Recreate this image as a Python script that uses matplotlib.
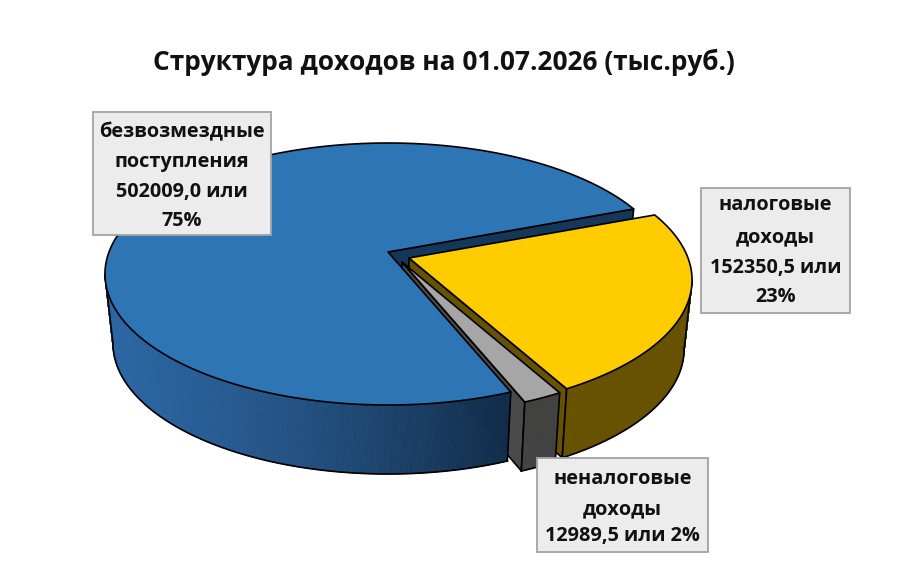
# plot.py
import numpy as np
import matplotlib
matplotlib.use("Agg")
import matplotlib.pyplot as plt
from matplotlib.patches import Polygon, Rectangle

# Values (thousand rub.), clockwise from the start angle
names = ["налоговые", "неналоговые", "безвозмездные"]
values = [152350.5, 12989.5, 502009.0]

title = "Структура доходов на 01.07.2026 (тыс.руб.)"
label_lines = {
    "налоговые": ["налоговые", "доходы", "152350,5 или", "23%"],
    "неналоговые": ["неналоговые", "доходы", "12989,5 или 2%"],
    "безвозмездные": ["безвозмездные", "поступления", "502009,0 или", "75%"],
}

# Look of the slices
top_colors = {"налоговые": "#ffcc00", "неналоговые": "#a6a6a6", "безвозмездные": "#2e75b6"}
side_colors = {"налоговые": "#665200", "неналоговые": "#424242", "безвозмездные": "#14375a"}
wall_colors = {"налоговые": "#665200", "неналоговые": "#4a4a4a", "безвозмездные": "#14375a"}
apex = {"налоговые": (409, 258), "неналоговые": (402, 262), "безвозмездные": (388, 252)}

# Pie projection, pixels
start_angle = 21.0
RX, RY, TILT = 279.0, 127.3, 0.168
DEPTH, SHRINK = 69.0, 0.972

# Label boxes: left, top, right, bottom, line centres
boxes = {
    "безвозмездные": (93, 112, 271, 235, [132.5, 162.5, 191.5, 220.5]),
    "налоговые": (701, 188, 850, 313, [205.5, 237.5, 268.5, 297.5]),
    "неналоговые": (537, 458, 708, 552, [478.5, 509.5, 536.5]),
}

plt.rcParams["font.family"] = ["Open Sans", "DejaVu Sans"]

fig = plt.figure(figsize=(9.05, 5.64), dpi=100)
ax = fig.add_axes([0, 0, 1, 1])
ax.set_xlim(0, 905)
ax.set_ylim(564, 0)
ax.axis("off")

# Draw order is kept by hand, lines would go above patches otherwise
layer = [1]


def next_z():
    layer[0] += 1
    return layer[0]


# Circle angle to screen, the far side of the pie gets smaller
def project(name, deg):
    t = np.radians(deg)
    u, v = np.cos(t), np.sin(t)
    w = 1 + TILT * v
    return apex[name][0] + RX * u / w, apex[name][1] - RY * v / w


def lower(name, pts):
    pts = np.atleast_2d(pts).astype(float)
    out = pts.copy()
    out[:, 0] = apex[name][0] + SHRINK * (pts[:, 0] - apex[name][0])
    out[:, 1] = pts[:, 1] + DEPTH
    return out


def arc(name, a0, a1):
    angles = np.linspace(a0, a1, max(int(abs(a1 - a0) * 4), 2))
    x, y = project(name, angles)
    return np.column_stack([x, y])


def poly(pts, face, lw=1.2, edge="black"):
    ax.add_patch(Polygon(pts, closed=True, facecolor=face, edgecolor=edge,
                         linewidth=lw, joinstyle="round", zorder=next_z()))


def line(a, b):
    ax.plot([a[0], b[0]], [a[1], b[1]], color="black", lw=1.2, zorder=next_z())


def blue_shade(x):
    # lighter on the left of the side face, dark near the cut
    left = np.array([0x2c, 0x66, 0xa2]) / 255
    right = np.array([0x11, 0x2d, 0x4b]) / 255
    k = np.clip((x - 110) / (503 - 110), 0, 1) ** 1.3
    return tuple(left + (right - left) * k)


def draw_wall(name, deg):
    top = np.array([apex[name], project(name, deg)])
    bot = lower(name, top)
    poly(np.vstack([top, bot[::-1]]), wall_colors[name])


def draw_side(name, a0, a1):
    top = arc(name, a0, a1)
    # only the part in front of the widest point can be seen
    widest = np.argmax(np.abs(top[:, 0] - apex[name][0]))
    if name == "безвозмездные":
        top = top[:widest + 1]
    else:
        top = top[widest:]
    bot = lower(name, top)
    for i in range(len(top) - 1):
        quad = [top[i], top[i + 1], bot[i + 1], bot[i]]
        if name == "безвозмездные":
            c = blue_shade(top[i, 0])
        else:
            c = side_colors[name]
        poly(quad, c, lw=0.6, edge=c)
    ax.plot(bot[:, 0], bot[:, 1], color="black", lw=1.2, zorder=next_z())
    line(top[0], bot[0])
    line(top[-1], bot[-1])


def draw_top(name, a0, a1):
    poly(np.vstack([[apex[name]], arc(name, a0, a1)]), top_colors[name])


# Slice angles from the values
sweeps = np.array(values) / sum(values) * 360
ends = start_angle - np.cumsum(sweeps)
starts = np.concatenate([[start_angle], ends[:-1]])
span = {n: (s, e) for n, s, e in zip(names, starts, ends)}

# Back to front
yellow, gray, blue = names
draw_wall(blue, span[blue][1])
draw_wall(yellow, span[yellow][1])
draw_side(yellow, *span[yellow])
draw_top(yellow, *span[yellow])
draw_wall(gray, span[gray][1])
draw_side(gray, *span[gray])
draw_top(gray, *span[gray])
draw_side(blue, *span[blue])
draw_top(blue, *span[blue])

# Labels
for name, (l, t, r, b, ys) in boxes.items():
    ax.add_patch(Rectangle((l, t), r - l, b - t, facecolor="#ececec",
                           edgecolor="#a3a3a3", linewidth=1.3, zorder=next_z()))
    for text_line, y in zip(label_lines[name], ys):
        ax.text((l + r) / 2, y, text_line, ha="center", va="center",
                fontsize=14.3, fontweight="bold", color="#111111", zorder=next_z())

ax.text(444, 62, title, ha="center", va="center", fontsize=18.9,
        fontweight="bold", color="#111111", zorder=next_z())

fig.savefig("out.png", dpi=100)
